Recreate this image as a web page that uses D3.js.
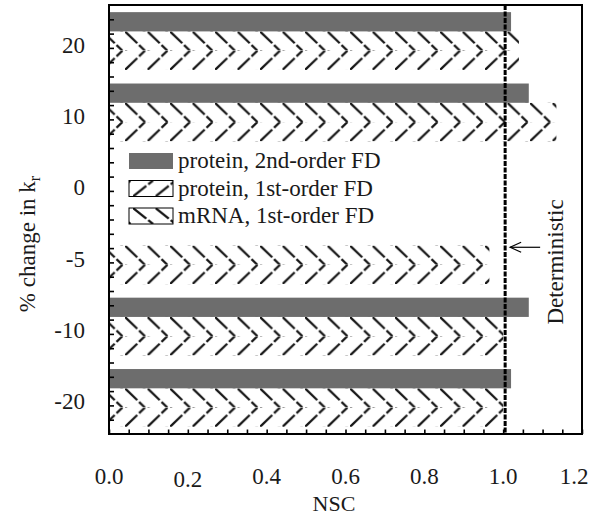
<!DOCTYPE html>
<html>
<head>
<meta charset="utf-8">
<script src="https://cdn.jsdelivr.net/npm/d3@7"></script>
<style>
body { margin: 0; background: #fff; }
svg { display: block; font-family: "Liberation Serif", "Times New Roman", serif; }
</style>
</head>
<body>
<div id="chart"></div>
<script>
// % change in k_r (top to bottom)
const categories = ["20", "10", "0", "-5", "-10", "-20"];
// NSC values per series (null = no bar)
const protein2nd = [1.02, 1.065, null, null, 1.065, 1.02];
const mrna1st = [1.04, 1.135, null, 0.965, 1.0, 1.0];
const protein1st = [1.04, 1.135, null, 0.965, 1.0, 1.0];
const deterministicNSC = 1.005;
const xTickLabels = [0, 0.2, 0.4, 0.6, 0.8, 1.0, 1.2];
const legendKeys = ["p2", "p1", "m1"];
const legendLabels = ["protein, 2nd-order FD", "protein, 1st-order FD", "mRNA, 1st-order FD"];

const width = 593, height = 518;
const frame = { left: 109, right: 582, top: 5, bottom: 434 };
const gray = "#6d6d6d";
const ink = "#161616";
const hatchPeriod = 22.5;

const svg = d3.select("#chart").append("svg")
    .attr("width", width)
    .attr("height", height);
const defs = svg.append("defs");

const x = d3.scaleLinear().domain([0, 1.2]).range([frame.left, frame.right]);
const y = d3.scaleBand().domain(categories)
    .range([frame.top, frame.bottom])
    .paddingInner(0.19)
    .paddingOuter(0.1);
const sub = d3.scaleBand().domain(["p2", "m1", "p1"]).range([0, y.bandwidth()]);

// hatch pattern: "\" for mRNA, "/" for protein 1st-order
function makeHatch(id, key, px, py, h) {
    const p = defs.append("pattern")
        .attr("id", id)
        .attr("patternUnits", "userSpaceOnUse")
        .attr("x", px)
        .attr("y", py)
        .attr("width", hatchPeriod)
        .attr("height", h);
    p.append("line")
        .attr("x1", 0).attr("x2", hatchPeriod - 2.5)
        .attr("y1", key === "m1" ? 0 : h)
        .attr("y2", key === "m1" ? h : 0)
        .attr("stroke", ink)
        .attr("stroke-width", 2.3)
        .attr("stroke-dasharray", "17,2.5");
    return `url(#${id})`;
}

const bars = [];
categories.forEach((c, i) => {
    [["p2", protein2nd[i]], ["m1", mrna1st[i]], ["p1", protein1st[i]]].forEach(([k, v]) => {
        if (v != null) bars.push({ cat: c, key: k, value: v });
    });
});

const phaseX = x(0) + 16 - hatchPeriod;

svg.append("g").selectAll("rect")
    .data(bars)
    .enter()
    .append("rect")
    .attr("x", x(0))
    .attr("y", d => y(d.cat) + sub(d.key))
    .attr("width", d => x(d.value) - x(0))
    .attr("height", sub.bandwidth())
    .attr("fill", (d, i) => d.key === "p2" ? gray
        : makeHatch("hatch-" + i, d.key, phaseX, y(d.cat) + sub(d.key), sub.bandwidth()));

// deterministic reference line
svg.append("line")
    .attr("x1", x(deterministicNSC)).attr("x2", x(deterministicNSC))
    .attr("y1", frame.top).attr("y2", frame.bottom)
    .attr("stroke", "#000")
    .attr("stroke-width", 3)
    .attr("stroke-dasharray", "5,1.5");

// arrow + label
const arrowY = y("-5") + 21;
const ax0 = x(deterministicNSC) + 5, ax1 = x(deterministicNSC) + 35;
svg.append("line")
    .attr("x1", ax0).attr("x2", ax1)
    .attr("y1", arrowY).attr("y2", arrowY)
    .attr("stroke", "#000").attr("stroke-width", 1.2);
svg.append("path")
    .attr("d", `M${ax0 + 11},${arrowY - 5} L${ax0},${arrowY} L${ax0 + 11},${arrowY + 5}`)
    .attr("fill", "none").attr("stroke", "#000").attr("stroke-width", 1.2);
svg.append("text")
    .attr("transform", `translate(563, 262) rotate(-90)`)
    .attr("text-anchor", "middle")
    .attr("font-size", "23px")
    .attr("fill", "#1a1a1a")
    .text("Deterministic");

// x axis: minor ticks inward, labels every 0.2
const xAxis = svg.append("g")
    .attr("transform", `translate(0, ${frame.bottom})`)
    .call(d3.axisBottom(x).tickValues(d3.range(0, 1.2001, 0.05)).tickSize(-4.5).tickFormat(""));
xAxis.select(".domain").remove();
xAxis.selectAll("line").attr("stroke", "#000").attr("stroke-width", 1.6);

svg.append("g").selectAll("text")
    .data(xTickLabels)
    .enter()
    .append("text")
    .attr("x", d => Math.min(x(d), 574))
    .attr("y", (d, i) => i === 1 ? 487 : 484)
    .attr("text-anchor", "middle")
    .attr("font-size", "23px")
    .attr("fill", "#1a1a1a")
    .text(d => d.toFixed(1));

svg.append("text")
    .attr("x", 334)
    .attr("y", 511)
    .attr("text-anchor", "middle")
    .attr("font-size", "22px")
    .attr("fill", "#1a1a1a")
    .text("NSC");

// y axis: minor ticks inward
const yMinor = d3.scaleLinear().domain([0, 30]).range([frame.top, frame.bottom]);
const yAxis = svg.append("g")
    .attr("transform", `translate(${frame.left}, 0)`)
    .call(d3.axisLeft(yMinor).tickValues(d3.range(1, 30)).tickSize(-5).tickFormat(""));
yAxis.select(".domain").remove();
yAxis.selectAll("line").attr("stroke", "#000").attr("stroke-width", 1.6);

svg.append("g").selectAll("text")
    .data(categories)
    .enter()
    .append("text")
    .attr("x", 85)
    .attr("y", d => y(d) + y.bandwidth() / 2 + 11.5)
    .attr("text-anchor", "end")
    .attr("font-size", "23px")
    .attr("fill", "#1a1a1a")
    .text(d => d);

const yTitle = svg.append("text")
    .attr("transform", `translate(35, 244) rotate(-90)`)
    .attr("text-anchor", "middle")
    .attr("font-size", "23px")
    .attr("fill", "#1a1a1a");
yTitle.append("tspan").text("% change in k");
yTitle.append("tspan").attr("font-size", "16px").attr("dy", 5).text("r");

// frame
svg.append("rect")
    .attr("x", frame.left).attr("y", frame.top)
    .attr("width", frame.right - frame.left)
    .attr("height", frame.bottom - frame.top)
    .attr("fill", "none")
    .attr("stroke", "#000")
    .attr("stroke-width", 2);

// legend
const legend = svg.append("g");
legendKeys.forEach((k, i) => {
    const ly = 153 + i * 27.5;
    const sw = 44, sh = 16, lx = 129;
    legend.append("rect")
        .attr("x", lx).attr("y", ly)
        .attr("width", sw).attr("height", sh)
        .attr("fill", k === "p2" ? gray : makeHatch("legend-hatch-" + k, k, lx + 4, ly, sh))
        .attr("stroke", k === "p2" ? "none" : "#000")
        .attr("stroke-width", 1);
    legend.append("text")
        .attr("x", lx + sw + 5)
        .attr("y", ly + 15)
        .attr("font-size", "23px")
        .attr("fill", "#1a1a1a")
        .text(legendLabels[i]);
});
</script>
</body>
</html>
